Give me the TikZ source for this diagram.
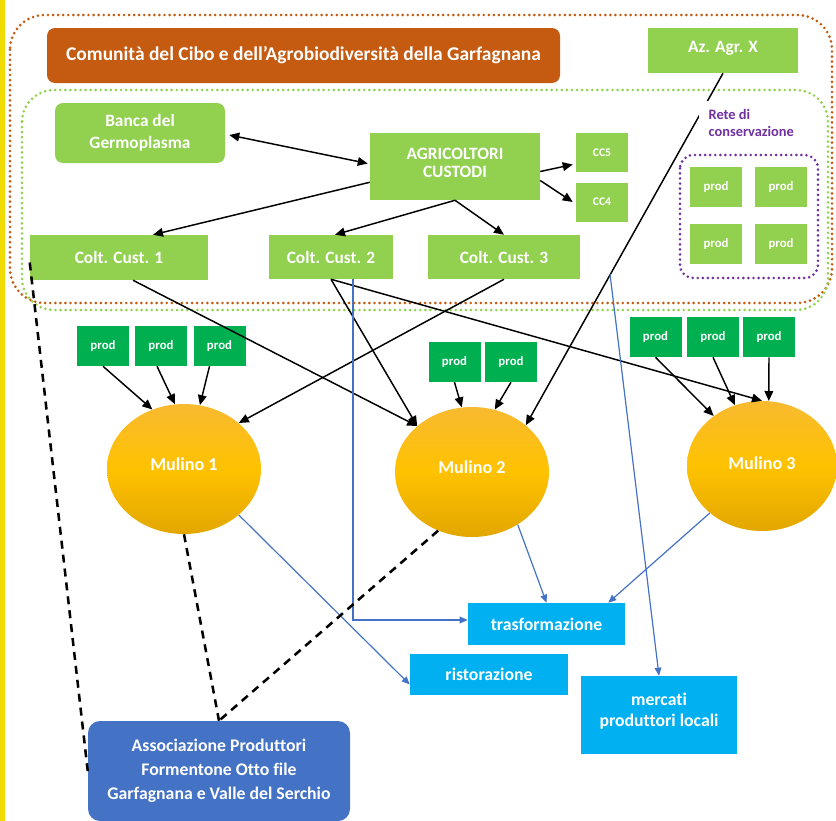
\documentclass[tikz,border=0pt]{standalone}
\usepackage{fontspec}
\setmainfont{Carlito}[Ligatures=NoCommon]
\usetikzlibrary{arrows.meta,calc,shapes.geometric}
\definecolor{orng}{RGB}{197,90,17}
\definecolor{lgreen}{RGB}{146,208,80}
\definecolor{dgreen}{RGB}{0,176,80}
\definecolor{lblue}{RGB}{0,176,240}
\definecolor{dblue}{RGB}{68,114,196}
\definecolor{purp}{RGB}{112,48,160}
\definecolor{ylw}{RGB}{240,220,0}
\definecolor{goldA}{RGB}{248,186,48}
\definecolor{goldB}{RGB}{255,194,0}
\definecolor{goldC}{RGB}{226,166,0}
\begin{document}
\begin{tikzpicture}[x=0.75pt,y=-0.75pt,
  sz/.style 2 args={minimum width=#1*0.75pt, minimum height=#2*0.75pt},
  base/.style={inner sep=0pt, align=center, text=white, font=\bfseries\fontsize{13}{16.5}\selectfont},
  gbox/.style={base, fill=lgreen},
  obox/.style={base, fill=orng, rounded corners=6pt, font=\bfseries\fontsize{14.6}{17}\selectfont},
  dbox/.style={base, fill=dgreen, sz={52}{40}, font=\bfseries\fontsize{9.6}{11}\selectfont},
  rbox/.style={base, fill=lgreen, sz={52}{40}, font=\bfseries\fontsize{9.6}{11}\selectfont},
  ccbox/.style={base, fill=lgreen, sz={52}{39}, font=\bfseries\fontsize{8.8}{10}\selectfont},
  bbox/.style={base, fill=lblue, font=\bfseries\fontsize{13.3}{16.5}\selectfont},
  abox/.style={base, fill=dblue, rounded corners=9pt, font=\bfseries\fontsize{13.3}{18}\selectfont},
  mul/.style={base, ellipse, sz={154}{130}, top color=goldA, bottom color=goldC, middle color=goldB, font=\bfseries\fontsize{13.6}{16}\selectfont},
  dots/.style={line width=2.2pt, line cap=round, dash pattern=on 0pt off 3.8pt},
  arr/.style={draw=black, line width=1.1pt, -{Triangle[length=7.5pt,width=6.5pt]}},
  barr/.style={draw=dblue, line width=0.9pt, -{Triangle[length=6pt,width=5pt]}},
  dsh/.style={draw=black, line width=1.9pt, dash pattern=on 6pt off 4.5pt}
]
\useasboundingbox (0,0) rectangle (836,821);
\fill[ylw] (0,0) rectangle (5,821);

% containers
\draw[dots, orng, rounded corners=26pt] (10,15) rectangle (832,303);
\draw[dots, lgreen, rounded corners=24pt] (22,90) rectangle (828,310);
\draw[dots, purp, rounded corners=10pt] (680,155) rectangle (818,278);

% nodes
\node[obox, sz={513}{55}] (title) at (303.5,55.5) {Comunità del Cibo e dell’Agrobiodiversità della Garfagnana};
\node[gbox, sz={150}{45}] (az) at (723,50.5) {\raisebox{6pt}{Az. Agr. X}};
\node[gbox, rounded corners=6pt, sz={170}{60}] (banca) at (140,133) {Banca del\\Germoplasma};
\node[gbox, sz={170}{67}] (agri) at (455,166.5) {\raisebox{5pt}{\shortstack{AGRICOLTORI\\[2pt]CUSTODI}}};
\node[ccbox] (cc5) at (602,152.5) {CC5};
\node[ccbox] (cc4) at (602,202) {CC4};
\node[gbox, sz={178}{45}] (c1) at (119,257.5) {Colt. Cust. 1};
\node[gbox, sz={124}{44}] (c2) at (331,257) {Colt. Cust. 2};
\node[gbox, sz={152}{44}] (c3) at (504,257) {Colt. Cust. 3};

\node[rbox] (r1) at (716,187) {prod};
\node[rbox] (r2) at (781,187) {prod};
\node[rbox] (r3) at (716,244) {prod};
\node[rbox] (r4) at (781,244) {prod};

\node[dbox] (p1a) at (103,346) {prod};
\node[dbox] (p1b) at (161,346) {prod};
\node[dbox] (p1c) at (219.5,346) {prod};
\node[dbox] (p2a) at (454.5,362) {prod};
\node[dbox] (p2b) at (511,362) {prod};
\node[dbox] (p3a) at (655.5,337) {prod};
\node[dbox] (p3b) at (713,337) {prod};
\node[dbox] (p3c) at (769,337) {prod};

\node[mul] (m1) at (184,469) {\raisebox{8pt}{Mulino 1}};
\node[mul] (m2) at (472,472) {\raisebox{8pt}{Mulino 2}};
\node[mul, sz={150}{130}] (m3) at (762,466) {\raisebox{4pt}{Mulino 3}};

\node[bbox, sz={157}{42}] (trasf) at (546.5,624) {trasformazione};
\node[bbox, sz={158}{41}] (risto) at (489,674.5) {ristorazione};
\node[bbox, sz={156}{78}] (merc) at (659,715) {\raisebox{8pt}{\shortstack{mercati\\[3pt]produttori locali}}};
\node[abox, sz={262}{100}] (assoc) at (219,771) {Associazione Produttori\\Formentone Otto file\\Garfagnana e Valle del Serchio};

% black connectors
\draw[arr, {Triangle[length=7.5pt,width=6.5pt]}-{Triangle[length=7.5pt,width=6.5pt]}] ($(banca.east)+(4,2)$) -- ($(agri.west)+(-2,-3)$);
\draw[arr] ($(agri.south west)+(0,-18)$) -- ($(c1.north)+(34,0)$);
\draw[arr] (agri.south) -- ($(c2.north)+(4,0)$);
\draw[arr] (agri.south) -- (c3.north);
\draw[arr] ($(agri.east)+(0,5)$) -- ($(cc5.west)+(-3,12)$);
\draw[arr] ($(agri.east)+(0,14)$) -- ($(cc4.west)+(-3,0)$);
\draw[arr] (az.south) -- (m2.41);
\draw[arr] ($(c1.south)+(14,0)$) -- (m2.140);
\draw[arr] (c2.south) -- (m2.140);
\draw[arr] (c2.south) -- (m3.north);
\draw[arr] (c3.south) -- (m1.40);
\draw[arr] (p1a.south) -- (m1.118);
\draw[arr] ($(p1b.south)+(-4,0)$) -- (m1.98);
\draw[arr] ($(p1c.south)+(-10,0)$) -- (m1.76);
\draw[arr] (p2a.south) -- (m2.99);
\draw[arr] (p2b.south) -- (m2.70);
\draw[arr] (p3a.south) -- (m3.134);
\draw[arr] (p3b.south) -- (m3.114);
\draw[arr] (p3c.south) -- (m3.84);

% blue connectors
\draw[barr] ($(c2.south)+(22,0)$) |- ($(trasf.west)+(0,-4)$);
\coordinate (bs) at (610,274);
\draw[barr] (bs) -- (merc.north);
\draw[barr] (m1.-40) -- ($(risto.west)+(0,10)$);
\draw[barr] (m2.-49) -- (trasf.north);
\draw[barr] (m3.-138) -- ($(trasf.north east)+(-17,0)$);

% dashed connectors
\draw[dsh] ($(c1.west)+(0,5)$) -- (assoc.west);
\draw[dsh] (m1.south) -- (assoc.north);
\draw[dsh] (m2.-120) -- (assoc.north);

% label of the conservation network
\node[fill=white, text=purp, align=left, anchor=north west, inner xsep=7pt, inner ysep=6pt, font=\bfseries\fontsize{10.8}{13}\selectfont] (rete) at (699,101) {Rete di\\conservazione};
\end{tikzpicture}
\end{document}
